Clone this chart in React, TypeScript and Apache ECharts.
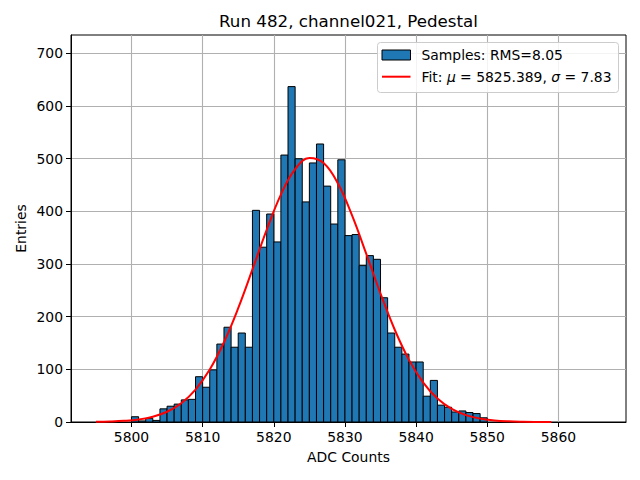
import React, { useEffect, useRef } from "react";
import * as echarts from "echarts";

// Histogram: integer bins of width 1 starting at binStart
const binStart = 5795;
const binWidth = 1;
const counts = [
  0, 0, 0, 0, 0,
  10, 2, 7, 3, 25, 30, 34, 42, 43, 86,
  66, 99, 148, 180, 142, 169, 142, 402, 332, 395,
  342, 507, 637, 500, 418, 492, 528, 448, 376, 498,
  354, 356, 297, 316, 309, 236, 169, 142, 129, 114,
  114, 49, 79, 32, 28, 19, 21, 18, 16, 8,
];

// Fit curve
const fitX = [
  5795, 5797, 5799, 5801, 5803, 5805, 5807, 5809, 5811, 5813, 5815,
  5817, 5819, 5821, 5823, 5825, 5827, 5829, 5831, 5833, 5835, 5837,
  5839, 5841, 5843, 5845, 5847, 5849, 5851, 5853, 5855, 5857, 5859,
];
const fitY = [
  0.37, 0.93, 2.2, 4.8, 10.0, 19.5, 35.7, 61.6, 99.6, 151.4, 216.1,
  289.7, 365.0, 431.9, 480.1, 501.4, 491.9, 453.4, 392.5, 319.3, 243.9, 175.2,
  118.0, 74.8, 44.5, 24.9, 13.1, 6.4, 3.0, 1.3, 0.53, 0.2, 0.08,
];

const xTicks = [5800, 5810, 5820, 5830, 5840, 5850, 5860];
const yTicks = [0, 100, 200, 300, 400, 500, 600, 700];

const titleText = "Run 482, channel021, Pedestal";
const xName = "ADC Counts";
const yName = "Entries";
const legendSamples = "Samples: RMS=8.05";
const legendFit = "Fit: {i|\u03bc} = 5825.389, {i|\u03c3} = 7.83";

const FONT = "DejaVu Sans";
const FS = 13.9;

export default function App() {
  const ref = useRef<HTMLDivElement>(null);
  useEffect(() => {
    if (!ref.current) return;
    const chart = echarts.init(ref.current, undefined, { renderer: "svg" });
    const histData = counts
      .map((c, i) => [binStart + i * binWidth, binStart + (i + 1) * binWidth, c])
      .filter((d) => d[2] > 0);
    const fitData = fitX.map((x, i) => [x, fitY[i]]);

    const plotLeft = 71;
    const plotRight = 626;
    const plotTop = 35;
    const plotBottom = 422;
    const cx = (plotLeft + plotRight) / 2;

    chart.setOption({
      animation: false,
      textStyle: { fontFamily: FONT },
      grid: {
        left: plotLeft,
        right: 640 - plotRight,
        top: plotTop,
        bottom: 480 - plotBottom,
        show: true,
        borderColor: "#000",
        borderWidth: 1,
        backgroundColor: "transparent",
      },
      xAxis: {
        type: "value",
        min: 5791.5,
        max: 5869.5,
        splitNumber: 8,
        axisLine: { show: true, onZero: false, lineStyle: { color: "#000", width: 1 } },
        axisTick: { show: true, length: 5, customValues: xTicks, lineStyle: { color: "#000", width: 1 } },
        axisLabel: {
          customValues: xTicks,
          margin: 8,
          color: "#000",
          fontSize: FS,
          fontFamily: FONT,
          formatter: (v: number) => String(v),
        },
        splitLine: { show: true, lineStyle: { color: "#b0b0b0", width: 1.1 } },
      },
      yAxis: {
        type: "value",
        min: 0,
        max: 735,
        splitNumber: 7,
        axisLine: { show: true, lineStyle: { color: "#000", width: 1 } },
        axisTick: { show: true, length: 5, customValues: yTicks, lineStyle: { color: "#000", width: 1 } },
        axisLabel: {
          customValues: yTicks,
          margin: 8,
          color: "#000",
          fontSize: FS,
          fontFamily: FONT,
          formatter: (v: number) => String(v),
        },
        splitLine: { show: true, lineStyle: { color: "#b0b0b0", width: 1.1 } },
      },
      series: [
        {
          type: "custom",
          name: "Samples",
          data: histData,
          encode: { x: [0, 1], y: 2 },
          renderItem: (params: any, api: any) => {
            const x0 = api.value(0);
            const x1 = api.value(1);
            const y = api.value(2);
            const p0 = api.coord([x0, y]);
            const p1 = api.coord([x1, 0]);
            return {
              type: "rect",
              shape: { x: p0[0], y: p0[1], width: p1[0] - p0[0], height: p1[1] - p0[1] },
              style: { fill: "#1f77b4", stroke: "#000", lineWidth: 1 },
            };
          },
          z: 2,
        },
        {
          type: "line",
          name: "Fit",
          data: fitData,
          smooth: 0.4,
          showSymbol: false,
          symbol: "none",
          lineStyle: { color: "#ff0000", width: 2 },
          z: 3,
        },
      ],
      graphic: [
        {
          type: "text",
          style: {
            text: titleText,
            x: cx,
            y: 21,
            align: "center",
            verticalAlign: "middle",
            fontSize: 16.7,
            fontFamily: FONT,
            fill: "#000",
          },
        },
        {
          type: "text",
          style: {
            text: xName,
            x: cx,
            y: 457,
            align: "center",
            verticalAlign: "middle",
            fontSize: FS,
            fontFamily: FONT,
            fill: "#000",
          },
        },
        {
          type: "text",
          x: 21,
          y: (plotTop + plotBottom) / 2,
          rotation: Math.PI / 2,
          style: {
            text: yName,
            x: 0,
            y: 0,
            align: "center",
            verticalAlign: "middle",
            fontSize: FS,
            fontFamily: FONT,
            fill: "#000",
          },
        },
        {
          type: "rect",
          shape: { x: 377.5, y: 42.5, width: 241, height: 50, r: 3 },
          style: { fill: "rgba(255,255,255,0.85)", stroke: "#cccccc", lineWidth: 1 },
          z: 10,
        },
        {
          type: "rect",
          shape: { x: 382, y: 50, width: 28.5, height: 10 },
          style: { fill: "#1f77b4", stroke: "#000", lineWidth: 1 },
          z: 11,
        },
        {
          type: "line",
          shape: { x1: 382, y1: 76.7, x2: 410.5, y2: 76.7 },
          style: { stroke: "#ff0000", lineWidth: 2 },
          z: 11,
        },
        {
          type: "text",
          style: {
            text: legendSamples,
            x: 421.5,
            y: 55,
            align: "left",
            verticalAlign: "middle",
            fontSize: FS,
            fontFamily: FONT,
            fill: "#000",
          },
          z: 11,
        },
        {
          type: "text",
          style: {
            text: legendFit,
            x: 421.5,
            y: 77,
            align: "left",
            verticalAlign: "middle",
            fontSize: FS,
            fontFamily: FONT,
            fill: "#000",
            rich: {
              i: { fontStyle: "italic", fontSize: FS, fontFamily: FONT, fill: "#000" },
            },
          },
          z: 11,
        },
      ],
    });
    return () => chart.dispose();
  }, []);
  return (
    <div
      ref={ref}
      style={{ position: "absolute", left: 0, top: 0, width: 640, height: 480, background: "#fff" }}
    />
  );
}
